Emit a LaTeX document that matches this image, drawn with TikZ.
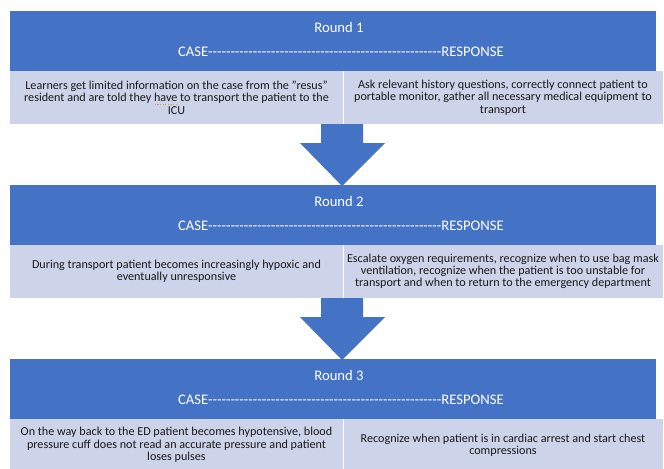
\documentclass[tikz,border=0pt]{standalone}
\usepackage{fontspec}
\setmainfont{Carlito}

\definecolor{hdrblue}{RGB}{68,114,196}
\definecolor{cellblue}{RGB}{205,211,233}
\definecolor{flagdot}{RGB}{214,160,60}

% run of plain hyphens (no TeX ligatures)
\newcommand{\dashrun}[1]{\foreach \k in {1,...,#1}{-}}

% word with a dotted proofing mark under it
\newlength{\flagwd}
\newcommand{\flagged}[1]{\settowidth{\flagwd}{#1}\leavevmode\rlap{\smash{\raisebox{-2.7pt}{\color{flagdot}\hbox to \flagwd{\xleaders\hbox to 1.9pt{\hss\rule{1pt}{1pt}\hss}\hfil}}}}#1}

\tikzset{
  roundlbl/.style={text=white, inner sep=0pt, font=\fontsize{11}{13}\selectfont},
  celltxt/.style={align=center, inner sep=0pt, text=black!90, font=\fontsize{9.1}{9.2}\selectfont}
}

\begin{document}
\begin{tikzpicture}[x=0.75pt,y=-0.75pt]

    \useasboundingbox (0,0) rectangle (664,468);
    \clip (0,0) rectangle (664,468);

    % the three round bands
    \foreach \i in {0,1,2} {
        \pgfmathsetmacro{\bandtop}{11+174*\i}
        \pgfmathtruncatemacro{\n}{\i+1}

        % header and cell row
        \fill[hdrblue] (10,\bandtop) rectangle (656,\bandtop+60);
        \fill[cellblue] (10,\bandtop+60) rectangle (663,\bandtop+113);
        \draw[white,line width=0.75pt] (343,\bandtop+60) -- (343,\bandtop+113);

        \node[roundlbl] (round\n) at (339,\bandtop+16) {Round \n};
        \node[roundlbl] (split\n) at (341,\bandtop+41) {CASE\dashrun{52}RESPONSE};
    }

    % block arrows between the bands
    \foreach \i in {0,1} {
        \pgfmathsetmacro{\gaptop}{124+174*\i}
        \coordinate (arrtop\i) at (342,\gaptop);
        \fill[hdrblue] (arrtop\i) ++(-21,0) -- ++(42,0) -- ++(0,19) -- ++(22,0)
            -- ++(-43,43) -- ++(-42,-43) -- ++(21,0) -- cycle;
    }

    % round 1 cells
    \node[celltxt] (case1) at (176.5,97.5)
        {Learners get limited information on the case from the "resus"\\
         resident and are told they \flagged{have} to transport the patient to the\\
         ICU};
    \node[celltxt] (resp1) at (503,97.5)
        {Ask relevant history questions, correctly connect patient to\\
         portable monitor, gather all necessary medical equipment to\\
         transport};

    % round 2 cells
    \node[celltxt] (case2) at (176.5,271.5)
        {During transport patient becomes increasingly hypoxic and\\
         eventually unresponsive};
    \node[celltxt] (resp2) at (503,271.5)
        {Escalate oxygen requirements, recognize when to use bag mask\\
         ventilation, recognize when the patient is too unstable for\\
         transport and when to return to the emergency department};

    % round 3 cells
    \node[celltxt] (case3) at (176.5,445)
        {On the way back to the ED patient becomes hypotensive, blood\\
         pressure cuff does not read an accurate pressure and patient\\
         loses pulses};
    \node[celltxt] (resp3) at (503,445)
        {Recognize when patient is in cardiac arrest and start chest\\
         compressions};

\end{tikzpicture}
\end{document}
